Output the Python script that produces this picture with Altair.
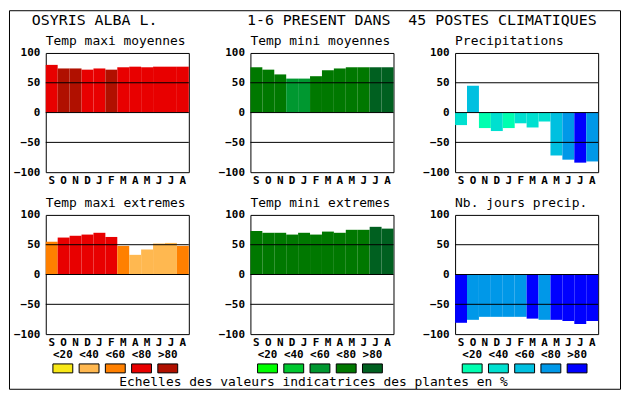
import altair as alt
import pandas as pd

MONO = "DejaVu Sans Mono"

months = ["S", "O", "N", "D", "J", "F", "M", "A", "M", "J", "J", "A"]
titles = ["Temp maxi moyennes", "Temp mini moyennes", "Precipitations",
          "Temp maxi extremes", "Temp mini extremes", "Nb. jours precip."]
main_title = ["OSYRIS ALBA L.", "1-6 PRESENT DANS", "45 POSTES CLIMATIQUES"]
footer = "Echelles des valeurs indicatrices des plantes en %"

tmax_moy = [80, 74, 74, 72, 74, 72, 76, 77, 76, 77, 77, 77]
tmax_moy_cls = [3, 4, 4, 3, 3, 4, 3, 3, 3, 3, 3, 3]
tmin_moy = [76, 72, 64, 57, 57, 61, 71, 74, 76, 76, 76, 76]
tmin_moy_cls = [3, 3, 3, 2, 2, 3, 3, 3, 3, 3, 4, 4]
precip = [-21, 45, -26, -31, -26, -18, -25, -15, -72, -79, -84, -82]
precip_cls = [1, 2, 0, 1, 0, 1, 1, 1, 2, 3, 4, 3]
tmax_ext = [55, 62, 65, 67, 70, 63, 48, 33, 42, 52, 53, 48]
tmax_ext_cls = [2, 3, 3, 3, 3, 3, 2, 1, 1, 1, 1, 2]
tmin_ext = [73, 70, 70, 67, 70, 67, 72, 70, 75, 75, 80, 77]
tmin_ext_cls = [3, 3, 3, 3, 3, 3, 3, 3, 3, 3, 4, 4]
jours = [-81, -76, -71, -71, -71, -71, -74, -76, -76, -78, -83, -78]
jours_cls = [4, 3, 3, 3, 3, 3, 4, 3, 4, 4, 4, 4]

reds = ["#f8e818", "#ffb850", "#ff8000", "#e80000", "#b01000"]
greens = ["#00ff00", "#00c830", "#009830", "#007800", "#006020"]
blues = ["#00ffb0", "#00e0d0", "#00c0e0", "#0098e8", "#0000ff"]
class_labels = ["<20", "<40", "<60", "<80", ">80"]
y_ticks = [-100, -50, 0, 50, 100]
ref_lines = [50, 0, -50]

label_expr = "[" + ",".join("'%s'" % m for m in months) + "][datum.value]"
BOX = "M-1,-0.45L1,-0.45L1,0.45L-1,0.45Z"
one = pd.DataFrame({"a": [0]})


def y_axis():
    return alt.Axis(values=y_ticks, tickCount=len(y_ticks), title=None,
                    ticks=False, domain=False, grid=False, labelPadding=6,
                    labelOverlap=False, labelBaseline="middle")


def y_scale():
    return alt.Scale(domain=[-100, 100], nice=False)


def panel(title, values, classes, palette, legend=False, extras=()):
    df = pd.DataFrame({"i": list(range(len(values))), "v": values,
                       "c": [palette[c] for c in classes]})
    bars = alt.Chart(df).mark_bar(strokeWidth=0).encode(
        x=alt.X("i:O", scale=alt.Scale(paddingInner=0, paddingOuter=0),
                axis=alt.Axis(labelExpr=label_expr, title=None, ticks=False,
                              domain=False, labelAngle=0, labelPadding=2,
                              labelBaseline="top", labelOverlap=False)),
        y=alt.Y("v:Q", scale=y_scale(), axis=y_axis()),
        y2=alt.datum(0),
        color=alt.Color("c:N", scale=None),
    )
    rules = alt.Chart(pd.DataFrame({"v": ref_lines})).mark_rule(
        color="black", strokeWidth=1).encode(
        y=alt.Y("v:Q", scale=y_scale(), axis=y_axis()))
    ttl = alt.Chart(one).mark_text(
        align="left", baseline="alphabetic", font=MONO, fontSize=13,
        color="black").encode(x=alt.value(0), y=alt.value(-8),
                               text=alt.value(title))
    layers = [bars, rules, ttl]
    if legend:
        ldf = pd.DataFrame({"k": class_labels, "c": palette})
        lx = alt.X("k:N", sort=class_labels,
                   scale=alt.Scale(type="point", range=[4, 136]), axis=None)
        ltext = alt.Chart(ldf).mark_text(
            font=MONO, fontWeight="bold", fontSize=11, baseline="middle",
            color="black").encode(x=lx, y=alt.value(141), text="k:N")
        lbox = alt.Chart(ldf).mark_point(
            shape=BOX, size=400, filled=True, opacity=1, stroke="black",
            strokeWidth=1).encode(x=lx, y=alt.value(154.5),
                                   fill=alt.Fill("c:N", scale=None))
        layers += [ltext, lbox]
    layers += list(extras)
    ch = alt.layer(*layers)
    if legend:
        ch = ch.resolve_scale(x="independent")
    return ch.properties(width=144, height=120)


frame = alt.Chart(one).mark_rect(fillOpacity=0, stroke="black", strokeWidth=1).encode(
    x=alt.value(-36.5), x2=alt.value(578.5), y=alt.value(-42.5), y2=alt.value(338.5))
nb = "\u00a0"
title_text = main_title[0] + nb * 10 + main_title[1] + nb * 2 + main_title[2]
mtitle = alt.Chart(one).mark_text(
    align="left", baseline="middle", font=MONO, fontSize=15, color="black").encode(
    x=alt.value(-14), y=alt.value(-33), text=alt.value(title_text))
foot = alt.Chart(one).mark_text(
    align="center", baseline="middle", font=MONO, fontSize=13, color="black").encode(
    x=alt.value(63.5), y=alt.value(168), text=alt.value(footer))

p1 = panel(titles[0], tmax_moy, tmax_moy_cls, reds, extras=(frame, mtitle))
p2 = panel(titles[1], tmin_moy, tmin_moy_cls, greens)
p3 = panel(titles[2], precip, precip_cls, blues)
p4 = panel(titles[3], tmax_ext, tmax_ext_cls, reds, legend=True)
p5 = panel(titles[4], tmin_ext, tmin_ext_cls, greens, legend=True, extras=(foot,))
p6 = panel(titles[5], jours, jours_cls, blues, legend=True)

chart = alt.concat(p1, p2, p3, p4, p5, p6, columns=3,
                   spacing={"row": 43, "column": 62}, bounds="flush").properties(
    padding=0, background="white"
).configure_view(stroke="black", strokeWidth=1).configure_axis(
    labelFont=MONO, labelFontSize=11, labelFontWeight="bold", labelColor="black")

chart.save("out.html", embed_options={"renderer": "svg", "actions": False})
